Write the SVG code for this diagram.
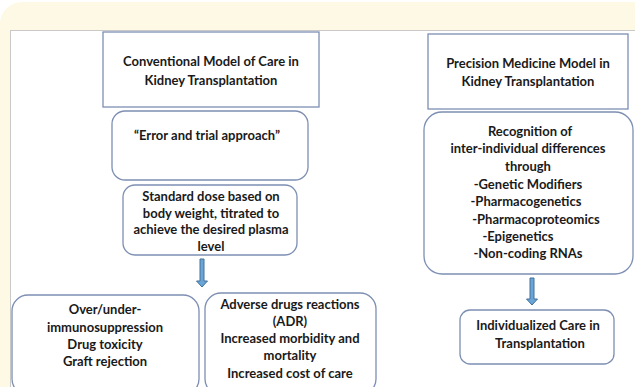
<svg xmlns="http://www.w3.org/2000/svg" width="635" height="387" viewBox="0 0 635 387">
<defs>
<style>
.bx{fill:#fff;stroke:#7d8fb3;stroke-width:1.3}
.t{font-family:Lato,"Open Sans","Liberation Sans",sans-serif;font-weight:bold;font-size:13px;fill:#1a1a1a;text-anchor:middle}
.ar{fill:#6aa5d6;stroke:#41719c;stroke-width:1}
</style>
</defs>
<rect x="0" y="0" width="635" height="387" fill="#ffffff"/>
<rect x="0" y="2" width="660" height="420" rx="22" fill="#fdf9e4"/>
<rect x="10.5" y="30.5" width="640" height="370" fill="#ffffff" stroke="#c9c9c9" stroke-width="1"/>
<g id="n1"><rect class="bx" x="103" y="32" width="216" height="75"/>
<text class="t" x="211" y="66">Conventional Model of Care in</text>
<text class="t" x="211" y="85">Kidney Transplantation</text></g>
<g id="n2"><rect class="bx" x="428" y="34" width="200" height="75"/>
<text class="t" x="528" y="68">Precision Medicine Model in</text>
<text class="t" x="528" y="86">Kidney Transplantation</text></g>
<g id="n3"><rect class="bx" x="112" y="111" width="196" height="69" rx="13"/>
<text class="t" x="207" y="140">“Error and trial approach”</text></g>
<g id="n4"><rect class="bx" x="123" y="185" width="174" height="70" rx="12"/>
<text class="t" x="211" y="201">Standard dose based on</text>
<text class="t" x="211" y="218">body weight, titrated to</text>
<text class="t" x="211" y="234">achieve the desired plasma</text>
<text class="t" x="211" y="251">level</text></g>
<g id="n5"><rect class="bx" x="12" y="295" width="187" height="100" rx="16"/>
<text class="t" x="105" y="314">Over/under-</text>
<text class="t" x="105" y="332">immunosuppression</text>
<text class="t" x="105" y="349">Drug toxicity</text>
<text class="t" x="105" y="366">Graft rejection</text></g>
<g id="n6"><rect class="bx" x="205" y="293" width="171" height="102" rx="16"/>
<text class="t" x="290" y="309">Adverse drugs reactions</text>
<text class="t" x="290" y="326">(ADR)</text>
<text class="t" x="290" y="343">Increased morbidity and</text>
<text class="t" x="290" y="360">mortality</text>
<text class="t" x="290" y="378">Increased cost of care</text></g>
<g id="n7"><rect class="bx" x="424" y="112" width="209" height="162" rx="18"/>
<text class="t" x="530" y="136">Recognition of</text>
<text class="t" x="528" y="153">inter-individual differences</text>
<text class="t" x="528" y="171">through</text>
<text class="t" x="528" y="189">-Genetic Modifiers</text>
<text class="t" x="526" y="206">-Pharmacogenetics</text>
<text class="t" x="536" y="224">-Pharmacoproteomics</text>
<text class="t" x="518" y="241">-Epigenetics</text>
<text class="t" x="528" y="258">-Non-coding RNAs</text></g>
<g id="n8"><rect class="bx" x="460" y="310" width="154" height="54" rx="10"/>
<text class="t" x="538" y="330">Individualized Care in</text>
<text class="t" x="540" y="348">Transplantation</text></g>
<g id="connectors">
<path class="ar" d="M200 259 h4 v22 h3.5 l-5.5 6 l-5.5 -6 h3.5 z"/>
<path class="ar" d="M530 278 h4 v21 h3.5 l-5.5 6 l-5.5 -6 h3.5 z"/>
</g>
</svg>
